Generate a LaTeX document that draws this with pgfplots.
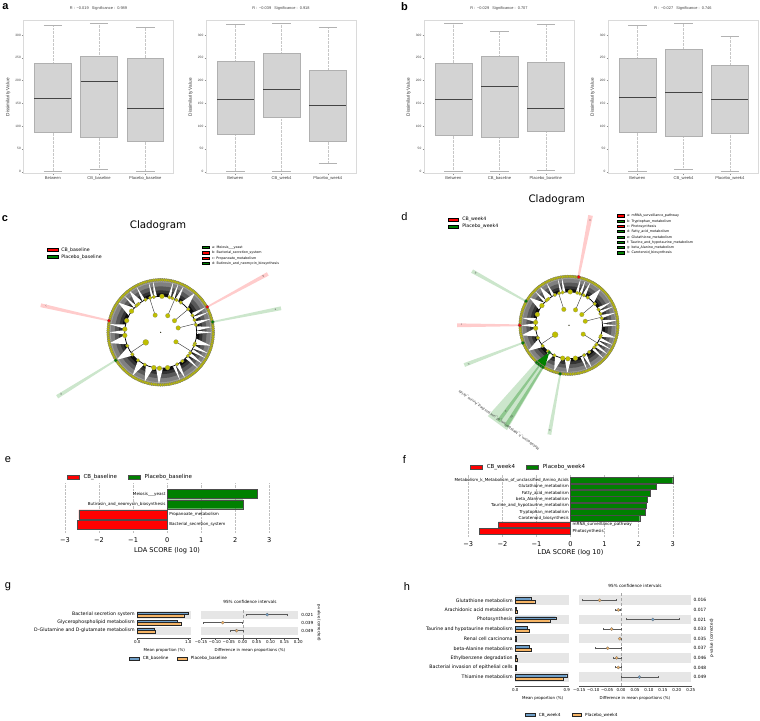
\documentclass[border=0pt]{standalone}
\usepackage{fontspec}
\usepackage{pgfplots}
\pgfplotsset{compat=1.18}
\usepgfplotslibrary{statistics,polar}
\setmainfont{DejaVu Sans}
\newfontfamily\hv{Liberation Sans}
\newcommand\fs[1]{\fontsize{#1}{#1}\selectfont}
\definecolor{boxf}{HTML}{D3D3D3}
\definecolor{boxe}{HTML}{B0B0B0}
\definecolor{frameC}{HTML}{DADADA}
\definecolor{medC}{HTML}{444444}
\definecolor{yel}{HTML}{BFBF00}
\definecolor{gr}{HTML}{008000}
\definecolor{blueS}{HTML}{6F9FC8}
\definecolor{orS}{HTML}{F5B465}
\definecolor{band}{HTML}{E6E6E6}
\pgfplotsset{
 pos/.style 2 args={at={(#1pt,{(720-#2)*1pt})}},
 boxax/.style={anchor=south west,scale only axis,width=150pt,height=153.3pt,
  xmin=0.365,xmax=3.61,ymin=-5.1,ymax=331.5,
  axis line style={draw=frameC,line width=1pt},
  tick style={draw=black!45,line width=.25pt},tick align=outside,major tick length=1.5pt,tick pos=left,
  xtick={1,2,3},ytick={0,50,100,150,200,250,300},yticklabels={0,50,100,150,200,250,300},
  xticklabel style={font=\hv\fs{4.1},text=black!75,inner sep=1.2pt},
  yticklabel style={font=\hv\fs{3.2},text=black!75,inner sep=1pt},
  ylabel={Dissimilarity Value},
  y label style={at={(axis description cs:-0.102,0.5)},anchor=center,font=\hv\fs{4.7},text=black!80},
  title style={font=\hv\fs{3.9},text=black!75,yshift=1pt},
  boxplot/draw direction=y,
  boxplot/box extend=0.8,boxplot/whisker extend=0,
  boxplot/every median/.style={draw=medC,line width=.8pt},
  boxplot/every box/.style={draw=boxe,fill=boxf,line width=.6pt},
  boxplot/every whisker/.style={draw=black!22,line width=.35pt,densely dotted}},
 ldaax/.style={anchor=south west,scale only axis,xmin=-3,xmax=3,
  axis x line=bottom,axis y line=none,axis line style={draw=none,-},tick style={draw=none},
  xmajorgrids,grid style={densely dotted,black!25,line width=.3pt},
  xtick={-3,-2,-1,0,1,2,3},xticklabels={−3,−2,−1,0,1,2,3},
  xticklabel style={font=\fs{6.6},inner sep=1pt,yshift=-1.2pt},xlabel={LDA SCORE (log 10)},clip=false},
 stL/.style={anchor=south west,scale only axis,clip=false,
  axis x line=bottom,axis y line=left,axis line style={-,line width=.3pt,black!70},
  y axis line style={draw=none},ytick style={draw=none},
  xtick pos=bottom,tick align=outside,major tick length=1.5pt,xtick style={line width=.3pt,black!70},
  xticklabel style={font=\fs{4},inner sep=1pt},yticklabel style={font=\fs{4.7},inner sep=1pt}},
 stR/.style={anchor=south west,scale only axis,clip=false,
  axis x line=bottom,axis y line=none,axis line style={-,line width=.3pt,black!70},
  xtick pos=bottom,tick align=outside,major tick length=1.5pt,xtick style={line width=.3pt,black!70},
  xticklabel style={font=\fs{4},inner sep=1pt}},
 ci/.style={draw=black!65,line width=.4pt,mark=*,mark size=1.6pt,only marks,
  mark options={fill=#1,draw=black!60,line width=.2pt},
  error bars/.cd,x dir=both,x explicit,error bar style={black!65,line width=.4pt},error mark options={rotate=90,mark size=1pt,line width=.3pt,black!65}},
 legA/.style={legend image code/.code={\draw[##1,line width=.35pt] (0pt,-1.7pt) rectangle (10.3pt,1.7pt);}},
 legB/.style={legend image code/.code={\draw[##1,line width=.3pt] (0pt,-1.1pt) rectangle (7.7pt,1.1pt);}},
 legC/.style={legend image code/.code={\draw[##1,line width=.3pt] (0pt,-2pt) rectangle (12.3pt,2pt);}},
 legD/.style={legend image code/.code={\draw[##1,line width=.35pt] (0pt,-1.4pt) rectangle (9.6pt,1.4pt);}},
 tree/.style={anchor=south west,scale only axis,hide axis,xmin=-140,xmax=140,ymin=-140,ymax=140,clip=false,data cs=polar},
}
\newcommand\bx[8]{%
 \addplot[boxplot prepared={draw position=#1,lower whisker=#4,lower quartile=#5,median=#6,upper quartile=#7,upper whisker=#8}] coordinates {};
 \addplot[draw=black!30,line width=.4pt] coordinates {(#2,#4)(#3,#4)};
 \addplot[draw=black!30,line width=.4pt] coordinates {(#2,#8)(#3,#8)};
}
\newcommand\ab[1]{\bx{1}{0.8}{1.2}#1}
\newcommand\bb[1]{\bx{2}{1.8}{2.2}#1}
\newcommand\cb[1]{\bx{3}{2.8}{3.2}#1}
\newcommand\Ray[5][0.2]{\addplot[fill=#2,draw=none,opacity=#1] coordinates {(#3,53)(#4,53)(#4,#5)(#3,#5)} --cycle;}
\newcommand\Wh[3]{\addplot[fill=white,draw=none] coordinates {(#1,36)(#2,52)(#3,36)} --cycle;}
\newcommand\Disc[3][draw=none]{\addplot[fill=#3,#1] coordinates {(0,#2)(10,#2)(20,#2)(30,#2)(40,#2)(50,#2)(60,#2)(70,#2)(80,#2)(90,#2)(100,#2)(110,#2)(120,#2)(130,#2)(140,#2)(150,#2)(160,#2)(170,#2)(180,#2)(190,#2)(200,#2)(210,#2)(220,#2)(230,#2)(240,#2)(250,#2)(260,#2)(270,#2)(280,#2)(290,#2)(300,#2)(310,#2)(320,#2)(330,#2)(340,#2)(350,#2)} --cycle;}
\newcommand\Tree{%
 \Disc{54}{black!38}\Disc{50}{black!50}\Disc{46}{black!65}\Disc{42}{black!80}\Disc{39}{black!95}
 \Wh{101.5}{103.5}{105.5}\Wh{96}{98.5}{101}\Wh{73.5}{76}{78.5}\Wh{67.5}{70}{72.5}\Wh{60.5}{63.5}{66.5}\Wh{42}{49}{56}
 \Wh{26}{29}{32}\Wh{20.5}{23}{25.5}\Wh{12}{15}{18}\Wh{2.5}{6}{9.5}\Wh{-2.5}{0}{2.5}
 \Wh{-20}{-15}{-10}\Wh{-27}{-24}{-21}\Wh{-32.5}{-30}{-27.5}\Wh{-40}{-37}{-34}\Wh{-46.5}{-44}{-41.5}
 \Wh{-65.5}{-62}{-58.5}\Wh{-70.5}{-68}{-65.5}\Wh{-97.5}{-92}{-86.5}\Wh{-114.5}{-108}{-101.5}\Wh{-129}{-123}{-117}
 \Wh{-156}{-148}{-140}\Wh{184.5}{192}{199.5}\Wh{176.5}{180}{183.5}\Wh{167.5}{171}{174.5}\Wh{137.5}{145}{152.5}
 \Wh{121}{127}{133}\Wh{115.5}{118}{120.5}\Wh{132.5}{135}{137.5}
 \Disc[draw=black,line width=.7pt]{36}{white}
 \addplot[black!75,line width=.45pt] coordinates {(108,18)(108,36)};
 \addplot[black!75,line width=.45pt] coordinates {(67,18)(67,36)};
 \addplot[black!75,line width=.45pt] coordinates {(40,18)(40,36)};
 \addplot[black!75,line width=.45pt] coordinates {(14,18)(14,36)};
 \addplot[black!75,line width=.45pt] coordinates {(-32,18)(-32,36)};
 \addplot[black!75,line width=.45pt] coordinates {(214,18)(214,36)};
 \addplot[only marks,mark=*,mark size=2.3pt,mark options={fill=yel,draw=black!50,line width=.1pt}] coordinates {(108,18)(67,18)(40,18)(14,18)(-32,18)};
 \addplot[only marks,mark=*,mark size=3pt,mark options={fill=yel,draw=black!50,line width=.1pt}] coordinates {(214,18)};
 \addplot[only marks,mark=*,mark size=1.9pt,mark options={fill=yel,draw=black!50,line width=.1pt}] coordinates {(107,36)(101,36)(76,36)(71,36)(64,36)(56,36)(40,36)(28,36)(20,36)(12,36)(-18,36)(-21,36)(-35,36)(-41,36)(-53,36)(-63,36)(-116,36)(-129,36)(-142,36)(-158,36)(132,36)(128,36)(115,36)};
 \addplot[only marks,mark=*,mark size=2.4pt,mark options={fill=yel,draw=black!50,line width=.1pt}] coordinates {(88,36)(-79,36)(-92,36)(-101,36)(-175,36)(175,36)(161,36)(144,36)};
 \addplot[only marks,mark=*,mark size=1.6pt,mark options={fill=yel,draw=black!55,line width=.15pt}] coordinates {(0,52.5)(2,52.5)(4,52.5)(6,52.5)(8,52.5)(10,52.5)(12,52.5)(14,52.5)(16,52.5)(18,52.5)(20,52.5)(22,52.5)(24,52.5)(26,52.5)(28,52.5)(30,52.5)(32,52.5)(34,52.5)(36,52.5)(38,52.5)(40,52.5)(42,52.5)(44,52.5)(46,52.5)(48,52.5)(50,52.5)(52,52.5)(54,52.5)(56,52.5)(58,52.5)(60,52.5)(62,52.5)(64,52.5)(66,52.5)(68,52.5)(70,52.5)(72,52.5)(74,52.5)(76,52.5)(78,52.5)(80,52.5)(82,52.5)(84,52.5)(86,52.5)(88,52.5)(90,52.5)(92,52.5)(94,52.5)(96,52.5)(98,52.5)(100,52.5)(102,52.5)(104,52.5)(106,52.5)(108,52.5)(110,52.5)(112,52.5)(114,52.5)(116,52.5)(118,52.5)(120,52.5)(122,52.5)(124,52.5)(126,52.5)(128,52.5)(130,52.5)(132,52.5)(134,52.5)(136,52.5)(138,52.5)(140,52.5)(142,52.5)(144,52.5)(146,52.5)(148,52.5)(150,52.5)(152,52.5)(154,52.5)(156,52.5)(158,52.5)(160,52.5)(162,52.5)(164,52.5)(166,52.5)(168,52.5)(170,52.5)(172,52.5)(174,52.5)(176,52.5)(178,52.5)(180,52.5)(182,52.5)(184,52.5)(186,52.5)(188,52.5)(190,52.5)(192,52.5)(194,52.5)(196,52.5)(198,52.5)(200,52.5)(202,52.5)(204,52.5)(206,52.5)(208,52.5)(210,52.5)(212,52.5)(214,52.5)(216,52.5)(218,52.5)(220,52.5)(222,52.5)(224,52.5)(226,52.5)(228,52.5)(230,52.5)(232,52.5)(234,52.5)(236,52.5)(238,52.5)(240,52.5)(242,52.5)(244,52.5)(246,52.5)(248,52.5)(250,52.5)(252,52.5)(254,52.5)(256,52.5)(258,52.5)(260,52.5)(262,52.5)(264,52.5)(266,52.5)(268,52.5)(270,52.5)(272,52.5)(274,52.5)(276,52.5)(278,52.5)(280,52.5)(282,52.5)(284,52.5)(286,52.5)(288,52.5)(290,52.5)(292,52.5)(294,52.5)(296,52.5)(298,52.5)(300,52.5)(302,52.5)(304,52.5)(306,52.5)(308,52.5)(310,52.5)(312,52.5)(314,52.5)(316,52.5)(318,52.5)(320,52.5)(322,52.5)(324,52.5)(326,52.5)(328,52.5)(330,52.5)(332,52.5)(334,52.5)(336,52.5)(338,52.5)(340,52.5)(342,52.5)(344,52.5)(346,52.5)(348,52.5)(350,52.5)(352,52.5)(354,52.5)(356,52.5)(358,52.5)};
}
\newcommand\LegAxis[4]{%
 \begin{axis}[at={(#1pt,{(720-#2)*1pt})},anchor=north west,scale only axis,width=1pt,height=1pt,hide axis,xmin=0,xmax=1,ymin=0,ymax=1,
  legend cell align=left,legend style={at={(0,1)},anchor=north west,draw=none,fill=none,inner sep=0pt,outer sep=0pt},#3]
 #4
 \end{axis}}
\newcommand\T[4][]{\node[inner sep=0pt,#1] at (#2pt,{(720-#3)*1pt}) {#4};}
\begin{document}
\begin{tikzpicture}[x=1pt,y=1pt]
\path[use as bounding box] (0pt,0pt) rectangle (760pt,720pt);
% ---------- a
\begin{axis}[boxax,pos={23.5}{174},xticklabels={Between,CB\_baseline,Placebo\_baseline},title={R :\, −0.019 \ \ Significance :\, 0.989}]
\ab{{1}{86}{160}{238}{322}}\bb{{5}{75}{198}{254}{325}}\cb{{2}{66}{139}{250}{318}}
\end{axis}
\begin{axis}[boxax,pos={206}{174},xticklabels={Between,CB\_week4,Placebo\_week4},title={R :\, −0.039 \ \ Significance :\, 0.918}]
\ab{{2}{83}{159}{242}{323}}\bb{{1}{119}{181}{260}{325}}\cb{{18}{66}{146}{222}{318}}
\end{axis}
% ---------- b
\begin{axis}[boxax,pos={424}{174},xticklabels={Between,CB\_baseline,Placebo\_baseline},title={R :\, −0.029 \ \ Significance :\, 0.707}]
\ab{{1}{79}{158}{239}{325}}\bb{{2}{76}{187}{253}{308}}\cb{{4}{89}{140}{241}{323}}
\end{axis}
\begin{axis}[boxax,pos={608}{174},xticklabels={Between,CB\_week4,Placebo\_week4},title={R :\, −0.027 \ \ Significance :\, 0.746}]
\ab{{2}{86}{164}{249}{322}}\bb{{5}{78}{173}{268}{325}}\cb{{1}{84}{159}{233}{298}}
\end{axis}
% ---------- c
\begin{axis}[tree,pos={20.7}{472.3},width=280pt,height=280pt]
\Ray{red}{27.7}{29.5}{122}
\Ray{gr}{10.4}{12.2}{122.7}
\Ray{red}{166.4}{168.2}{123}
\Ray{gr}{211}{212.8}{122}
\Tree
\addplot[only marks,mark=*,mark size=1.8pt,mark options={fill=red,draw=black!60,line width=.2pt}] coordinates {(28.6,53)(167.3,53)};
\addplot[only marks,mark=*,mark size=1.8pt,mark options={fill=gr,draw=black!60,line width=.2pt}] coordinates {(11.3,53)(212,53)};
\addplot[only marks,mark=*,mark size=.3pt,mark options={fill=yel,draw=none}] coordinates {(0,0)};
\end{axis}
\T{158}{226}{\fs{10.3}Cladogram}
\T[rotate=28,text=black!70]{263.3}{276}{\fs{2.6}b}
\T[rotate=11,text=black!70]{275.5}{309.5}{\fs{2.6}a}
\T[rotate=-13,text=black!70]{46.3}{306.3}{\fs{2.6}c}
\T[rotate=32,text=black!70]{61}{394}{\fs{2.6}d}
\LegAxis{47.3}{247.3}{legA,legend style={font=\fs{4.7},row sep=1.6pt,nodes={inner sep=0pt,text height=4pt,text depth=1.3pt}},/tikz/every odd column/.append style={column sep=3.3pt}}{%
 \addlegendimage{fill=red,draw=black}\addlegendentry{CB\_baseline}
 \addlegendimage{fill=gr,draw=black}\addlegendentry{Placebo\_baseline}}
\LegAxis{201.7}{245}{legB,legend style={font=\fs{3.3},row sep=.6pt,nodes={inner sep=0pt,text height=3.6pt,text depth=1.1pt}},/tikz/every odd column/.append style={column sep=2.3pt}}{%
 \addlegendimage{fill=gr,draw=black}\addlegendentry{a: Meiosis\_\_\_yeast}
 \addlegendimage{fill=red,draw=black}\addlegendentry{b: Bacterial\_secretion\_system}
 \addlegendimage{fill=red,draw=black}\addlegendentry{c: Propanoate\_metabolism}
 \addlegendimage{fill=gr,draw=black}\addlegendentry{d: Butirosin\_and\_neomycin\_biosynthesis}}
% ---------- d
\begin{axis}[tree,pos={438.8}{455.5},width=260.4pt,height=260.4pt]
\Ray[0.2]{red}{77.7}{80.1}{120.4}
\Ray{gr}{149.8}{151.8}{119.4}
\Ray{red}{179}{181}{120.4}
\Ray{gr}{199.8}{201.8}{120.4}
\Ray{gr}{258.8}{260.8}{119.4}
\Ray{gr}{228.2}{239.4}{131}
\Ray[0.3]{gr}{232.8}{234.6}{128}
\Ray[0.3]{gr}{237}{239}{128}
\Tree
\addplot[fill=gr,draw=none] coordinates {(234,36)(228,52)(240,52)} --cycle;
\addplot[only marks,mark=*,mark size=1.8pt,mark options={fill=red,draw=black!60,line width=.2pt}] coordinates {(78.6,53)(180,53)};
\addplot[only marks,mark=*,mark size=1.8pt,mark options={fill=gr,draw=black!60,line width=.2pt}] coordinates {(150.7,53)(201,53)(229,53)(232,53)(235,53)(238,53)(259.6,53)(234,36)};
\addplot[only marks,mark=*,mark size=.3pt,mark options={fill=yel,draw=none}] coordinates {(0,0)};
\end{axis}
\T{556.7}{200}{\fs{10.3}Cladogram}
\T[rotate=79,text=black!70]{590}{220.7}{\fs{2.6}a}
\T[rotate=-29,text=black!70]{475.7}{272.7}{\fs{2.6}b}
\T[text=black!70]{461.7}{325}{\fs{2.6}c}
\T[rotate=21,text=black!70]{468.7}{364}{\fs{2.6}h}
\T[rotate=80,text=black!70]{549.5}{431}{\fs{2.6}d}
\T[rotate=54,text=black!70]{505.7}{411.7}{\fs{2.6}e}
\T[rotate=58,text=black!70]{511.7}{416.7}{\fs{2.6}fg}
\T[rotate=144,text=black!75]{499}{420}{\fs{3.55}Metabolism\_k\_Metabolism\_of\_unclassified\_Amino\_Acids}
\LegAxis{448.3}{216.7}{legD,legend style={font=\fs{4.7},row sep=2pt,nodes={inner sep=0pt,text height=4pt,text depth=1.3pt}},/tikz/every odd column/.append style={column sep=4pt}}{%
 \addlegendimage{fill=red,draw=black}\addlegendentry{CB\_week4}
 \addlegendimage{fill=gr,draw=black}\addlegendentry{Placebo\_week4}}
\LegAxis{616.7}{213.3}{legB,legend style={font=\fs{3.3},row sep=.6pt,nodes={inner sep=0pt,text height=3.6pt,text depth=1.1pt}},/tikz/every odd column/.append style={column sep=2.3pt}}{%
 \addlegendimage{fill=red,draw=black}\addlegendentry{a: mRNA\_surveillance\_pathway}
 \addlegendimage{fill=gr,draw=black}\addlegendentry{b: Tryptophan\_metabolism}
 \addlegendimage{fill=red,draw=black}\addlegendentry{c: Photosynthesis}
 \addlegendimage{fill=gr,draw=black}\addlegendentry{d: Fatty\_acid\_metabolism}
 \addlegendimage{fill=gr,draw=black}\addlegendentry{e: Glutathione\_metabolism}
 \addlegendimage{fill=gr,draw=black}\addlegendentry{f: Taurine\_and\_hypotaurine\_metabolism}
 \addlegendimage{fill=gr,draw=black}\addlegendentry{g: beta\_Alanine\_metabolism}
 \addlegendimage{fill=gr,draw=black}\addlegendentry{h: Carotenoid\_biosynthesis}}
% ---------- e
\begin{axis}[ldaax,pos={65}{532.7},width=204.3pt,height=49.7pt,ymin=-0.79,ymax=4.08,
  xlabel style={at={(axis description cs:0.5,-0.355)},anchor=center,font=\fs{6.6}}]
\addplot[xbar,bar shift=0pt,bar width=9pt,fill=gr,draw=black!70,line width=.3pt] coordinates {(2.64,3)(2.23,2)};
\addplot[xbar,bar shift=0pt,bar width=9pt,fill=red,draw=black!70,line width=.3pt] coordinates {(-2.59,1)(-2.64,0)};
\node[anchor=east,font=\fs{4.1},inner sep=1.5pt] at (axis cs:0,3) {Meiosis\_\_\_yeast};
\node[anchor=east,font=\fs{4.1},inner sep=1.5pt] at (axis cs:0,2) {Butirosin\_and\_neomycin\_biosynthesis};
\node[anchor=west,font=\fs{4.1},inner sep=2pt] at (axis cs:0,1) {Propanoate\_metabolism};
\node[anchor=west,font=\fs{4.1},inner sep=2pt] at (axis cs:0,0) {Bacterial\_secretion\_system};
\end{axis}
\LegAxis{66.7}{474.3}{legC,legend columns=2,legend style={font=\fs{5.5},nodes={inner sep=0pt,text height=4.4pt,text depth=1.2pt}},/tikz/every odd column/.append style={column sep=4.2pt},/tikz/every even column/.append style={column sep=11pt}}{%
 \addlegendimage{fill=red,draw=black!70}\addlegendentry{CB\_baseline}
 \addlegendimage{fill=gr,draw=black!70}\addlegendentry{Placebo\_baseline}}
% ---------- f
\begin{axis}[ldaax,pos={468.3}{536.7},width=204.4pt,height=62.7pt,ymin=-0.89,ymax=9,
  xlabel style={at={(axis description cs:0.5,-0.25)},anchor=center,font=\fs{6.6}}]
\addplot[xbar,bar shift=0pt,bar width=5.7pt,fill=gr,draw=black!70,line width=.3pt] coordinates {(3.0,8)(2.51,7)(2.33,6)(2.26,5)(2.22,4)(2.19,3)(2.03,2)};
\addplot[xbar,bar shift=0pt,bar width=5.7pt,fill=red,draw=black!70,line width=.3pt] coordinates {(-2.12,1)(-2.68,0)};
\node[anchor=east,font=\fs{4.1},inner sep=1.5pt] at (axis cs:0,8) {Metabolism\_k\_Metabolism\_of\_unclassified\_Amino\_Acids};
\node[anchor=east,font=\fs{4.1},inner sep=1.5pt] at (axis cs:0,7) {Glutathione\_metabolism};
\node[anchor=east,font=\fs{4.1},inner sep=1.5pt] at (axis cs:0,6) {Fatty\_acid\_metabolism};
\node[anchor=east,font=\fs{4.1},inner sep=1.5pt] at (axis cs:0,5) {beta\_Alanine\_metabolism};
\node[anchor=east,font=\fs{4.1},inner sep=1.5pt] at (axis cs:0,4) {Taurine\_and\_hypotaurine\_metabolism};
\node[anchor=east,font=\fs{4.1},inner sep=1.5pt] at (axis cs:0,3) {Tryptophan\_metabolism};
\node[anchor=east,font=\fs{4.1},inner sep=1.5pt] at (axis cs:0,2) {Carotenoid\_biosynthesis};
\node[anchor=west,font=\fs{4.1},inner sep=2pt] at (axis cs:0,1) {mRNA\_surveillance\_pathway};
\node[anchor=west,font=\fs{4.1},inner sep=2pt] at (axis cs:0,0) {Photosynthesis};
\end{axis}
\LegAxis{470}{464}{legC,legend columns=2,legend style={font=\fs{5.5},nodes={inner sep=0pt,text height=4.4pt,text depth=1.2pt}},/tikz/every odd column/.append style={column sep=4.2pt},/tikz/every even column/.append style={column sep=11pt}}{%
 \addlegendimage{fill=red,draw=black!70}\addlegendentry{CB\_week4}
 \addlegendimage{fill=gr,draw=black!70}\addlegendentry{Placebo\_week4}}
% ---------- g
\begin{axis}[stL,pos={137.3}{638.3},width=53.4pt,height=27.67pt,xmin=0,xmax=1.047,ymin=-0.96,ymax=2.5,
  xtick={0,1},xticklabels={0.0,1.0},ytick={0,1,2},yticklabels={D-Glutamine and D-glutamate metabolism,Glycerophospholipid metabolism,Bacterial secretion system}]
\addplot[fill=band,draw=none] coordinates {(0,1.5)(1.047,1.5)(1.047,2.5)(0,2.5)} --cycle;
\addplot[fill=band,draw=none] coordinates {(0,-0.5)(1.047,-0.5)(1.047,0.5)(0,0.5)} --cycle;
\addplot[xbar,bar shift=1.2pt,bar width=2.4pt,fill=blueS,draw=black!85,line width=.3pt] coordinates {(1.0,2)(0.78,1)(0.33,0)};
\addplot[xbar,bar shift=-1.2pt,bar width=2.4pt,fill=orS,draw=black!85,line width=.3pt] coordinates {(0.91,2)(0.85,1)(0.35,0)};
\end{axis}
\T{164.3}{650.7}{\fs{4}Mean proportion (\%)}
\begin{axis}[stR,pos={201}{638.3},width=97.3pt,height=27.67pt,xmin=-0.15,xmax=0.2,ymin=-0.96,ymax=2.5,
  xtick={-0.15,-0.1,-0.05,0,0.05,0.1,0.15,0.2},xticklabels={−0.15,−0.10,−0.05,0.00,0.05,0.10,0.15,0.20}]
\addplot[fill=band,draw=none] coordinates {(-0.15,1.5)(0.2,1.5)(0.2,2.5)(-0.15,2.5)} --cycle;
\addplot[fill=band,draw=none] coordinates {(-0.15,-0.5)(0.2,-0.5)(0.2,0.5)(-0.15,0.5)} --cycle;
\addplot[densely dashed,black!35,line width=.35pt] coordinates {(0,-0.96)(0,2.7)};
\addplot[ci=blueS] coordinates {(0.088,2) += (0.072,0) -= (0.074,0)};
\addplot[ci=orS] coordinates {(-0.072,1) += (0.071,0) -= (0.069,0) (-0.022,0) += (0.023,0) -= (0.022,0)};
\node[anchor=west,font=\fs{4.2},inner sep=0pt] at (axis cs:0.21,2) {0.021};
\node[anchor=west,font=\fs{4.2},inner sep=0pt] at (axis cs:0.21,1) {0.039};
\node[anchor=west,font=\fs{4.2},inner sep=0pt] at (axis cs:0.21,0) {0.049};
\end{axis}
\T{250}{650.7}{\fs{4}Difference in mean proportions (\%)}
\T{250}{602.3}{\fs{4.2}95\% confidence intervals}
\T[rotate=270]{319}{622.7}{\fs{3.9}p-value (corrected)}
\LegAxis{129}{656.5}{legD,legend columns=2,legend style={font=\fs{4.2},nodes={inner sep=0pt,text height=3.4pt,text depth=1pt}},/tikz/every odd column/.append style={column sep=4pt},/tikz/every even column/.append style={column sep=8.5pt}}{%
 \addlegendimage{fill=blueS,draw=black!85}\addlegendentry{CB\_baseline}
 \addlegendimage{fill=orS,draw=black!85}\addlegendentry{Placebo\_baseline}}
% ---------- h
\begin{axis}[stL,pos={515.3}{685.7},width=53.7pt,height=90.2pt,xmin=0,xmax=0.94,ymin=-0.9,ymax=8.5,
  xtick={0,0.9},xticklabels={0.0,0.9},ytick={0,1,2,3,4,5,6,7,8},yticklabels={Thiamine metabolism,Bacterial invasion of epithelial cells,Ethylbenzene degradation,beta-Alanine metabolism,Renal cell carcinoma,Taurine and hypotaurine metabolism,Photosynthesis,Arachidonic acid metabolism,Glutathione metabolism}]
\addplot[fill=band,draw=none] coordinates {(0,7.5)(0.94,7.5)(0.94,8.5)(0,8.5)} --cycle;
\addplot[fill=band,draw=none] coordinates {(0,5.5)(0.94,5.5)(0.94,6.5)(0,6.5)} --cycle;
\addplot[fill=band,draw=none] coordinates {(0,3.5)(0.94,3.5)(0.94,4.5)(0,4.5)} --cycle;
\addplot[fill=band,draw=none] coordinates {(0,1.5)(0.94,1.5)(0.94,2.5)(0,2.5)} --cycle;
\addplot[fill=band,draw=none] coordinates {(0,-0.5)(0.94,-0.5)(0.94,0.5)(0,0.5)} --cycle;
\addplot[xbar,bar shift=1.4pt,bar width=2.8pt,fill=blueS,draw=black!85,line width=.3pt] coordinates {(0.269,8)(0.012,7)(0.707,6)(0.216,5)(0.012,4)(0.24,3)(0.012,2)(0.012,1)(0.9,0)};
\addplot[xbar,bar shift=-1.4pt,bar width=2.8pt,fill=orS,draw=black!85,line width=.3pt] coordinates {(0.339,8)(0.035,7)(0.602,6)(0.251,5)(0.012,4)(0.286,3)(0.03,2)(0.015,1)(0.83,0)};
\end{axis}
\T{542.7}{698.7}{\fs{4}Mean proportion (\%)}
\begin{axis}[stR,pos={579.3}{685.7},width=111.4pt,height=90.2pt,xmin=-0.15,xmax=0.25,ymin=-0.9,ymax=8.5,
  xtick={-0.15,-0.1,-0.05,0,0.05,0.1,0.15,0.2,0.25},xticklabels={−0.15,−0.10,−0.05,0.00,0.05,0.10,0.15,0.20,0.25}]
\addplot[fill=band,draw=none] coordinates {(-0.15,7.5)(0.25,7.5)(0.25,8.5)(-0.15,8.5)} --cycle;
\addplot[fill=band,draw=none] coordinates {(-0.15,5.5)(0.25,5.5)(0.25,6.5)(-0.15,6.5)} --cycle;
\addplot[fill=band,draw=none] coordinates {(-0.15,3.5)(0.25,3.5)(0.25,4.5)(-0.15,4.5)} --cycle;
\addplot[fill=band,draw=none] coordinates {(-0.15,1.5)(0.25,1.5)(0.25,2.5)(-0.15,2.5)} --cycle;
\addplot[fill=band,draw=none] coordinates {(-0.15,-0.5)(0.25,-0.5)(0.25,0.5)(-0.15,0.5)} --cycle;
\addplot[densely dashed,black!35,line width=.35pt] coordinates {(0,-0.9)(0,8.98)};
\addplot[ci=blueS] coordinates {(0.114,6) += (0.096,0) -= (0.095,0) (0.066,0) += (0.066,0) -= (0.065,0)};
\addplot[ci=orS] coordinates {(-0.077,8) += (0.061,0) -= (0.062,0) (-0.01,7) += (0.008,0) -= (0.01,0) (-0.034,5) += (0.033,0) -= (0.029,0) (-0.005,4) += (0.005,0) -= (0.003,0) (-0.048,3) += (0.047,0) -= (0.044,0) (-0.016,2) += (0.015,0) -= (0.014,0) (-0.01,1) += (0.01,0) -= (0.013,0)};
\node[anchor=west,font=\fs{4.4},inner sep=0pt] at (axis cs:0.26,8) {0.016};
\node[anchor=west,font=\fs{4.4},inner sep=0pt] at (axis cs:0.26,7) {0.017};
\node[anchor=west,font=\fs{4.4},inner sep=0pt] at (axis cs:0.26,6) {0.021};
\node[anchor=west,font=\fs{4.4},inner sep=0pt] at (axis cs:0.26,5) {0.033};
\node[anchor=west,font=\fs{4.4},inner sep=0pt] at (axis cs:0.26,4) {0.035};
\node[anchor=west,font=\fs{4.4},inner sep=0pt] at (axis cs:0.26,3) {0.037};
\node[anchor=west,font=\fs{4.4},inner sep=0pt] at (axis cs:0.26,2) {0.046};
\node[anchor=west,font=\fs{4.4},inner sep=0pt] at (axis cs:0.26,1) {0.048};
\node[anchor=west,font=\fs{4.4},inner sep=0pt] at (axis cs:0.26,0) {0.049};
\end{axis}
\T{635}{698.7}{\fs{4}Difference in mean proportions (\%)}
\T{635}{586.3}{\fs{4.2}95\% confidence intervals}
\T[rotate=90]{711.7}{638.3}{\fs{4.1}p-value (corrected)}
\LegAxis{525.3}{712.8}{legD,legend columns=2,legend style={font=\fs{4.2},nodes={inner sep=0pt,text height=3.4pt,text depth=1pt}},/tikz/every odd column/.append style={column sep=3.7pt},/tikz/every even column/.append style={column sep=11pt}}{%
 \addlegendimage{fill=blueS,draw=black!85}\addlegendentry{CB\_week4}
 \addlegendimage{fill=orS,draw=black!85}\addlegendentry{Placebo\_week4}}
% ---------- panel letters
\T{5.5}{7}{\hv\bfseries\fs{11}a}
\T{404.5}{7}{\hv\bfseries\fs{11}b}
\T{5}{218.5}{\hv\bfseries\fs{11}c}
\T{404.5}{217}{\hv\fs{11}d}
\T{8}{460}{\hv\fs{11}e}
\T{404.5}{460}{\hv\fs{11}f}
\T{8}{587}{\hv\fs{11}g}
\T{407}{586.5}{\hv\fs{11}h}
\end{tikzpicture}
\end{document}
